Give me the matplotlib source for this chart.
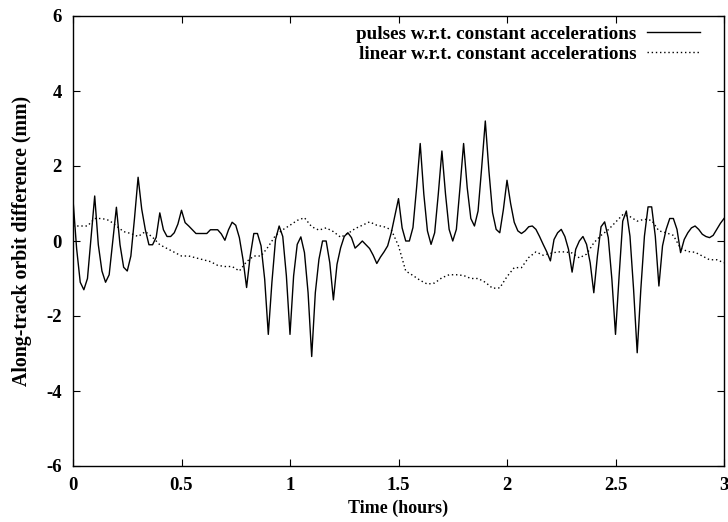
import numpy as np
import matplotlib
matplotlib.use("Agg")
import matplotlib.pyplot as plt

plt.rcParams['font.family'] = ['Liberation Serif', 'DejaVu Serif']
plt.rcParams['font.weight'] = 'bold'
plt.rcParams['axes.unicode_minus'] = False

# Along-track orbit differences (mm), one sample per minute over 3 hours
minutes_pulses = np.arange(0, 181)
pulses = [
    1.1, -0.2, -1.1, -1.3, -1.0, 0.1, 1.2, -0.1, -0.8, -1.1,
    -0.9, 0.0, 0.9, -0.1, -0.7, -0.8, -0.4, 0.6, 1.7, 0.85,
    0.3, -0.1, -0.1, 0.1, 0.75, 0.3, 0.12, 0.12, 0.22, 0.45,
    0.82, 0.49, 0.4, 0.3, 0.2, 0.2, 0.2, 0.2, 0.3, 0.3,
    0.3, 0.19, 0.02, 0.3, 0.5, 0.42, 0.09, -0.49, -1.24, -0.4,
    0.2, 0.2, -0.13, -1.02, -2.49, -1.1, 0.04, 0.4, 0.12, -0.93,
    -2.49, -0.93, -0.09, 0.11, -0.31, -1.38, -3.08, -1.38, -0.49, 0.0,
    0.0, -0.58, -1.57, -0.62, -0.18, 0.12, 0.22, 0.09, -0.19, -0.1,
    0.0, -0.1, -0.2, -0.38, -0.6, -0.43, -0.29, -0.13, 0.22, 0.67,
    1.13, 0.35, 0.0, 0.0, 0.36, 1.42, 2.6, 1.25, 0.27, -0.09,
    0.22, 1.25, 2.4, 1.25, 0.31, 0.0, 0.31, 1.42, 2.6, 1.42,
    0.6, 0.4, 0.8, 1.96, 3.2, 1.87, 0.76, 0.31, 0.22, 0.84,
    1.62, 1.0, 0.5, 0.27, 0.2, 0.27, 0.38, 0.4, 0.31, 0.12,
    -0.09, -0.29, -0.53, 0.04, 0.22, 0.31, 0.12, -0.22, -0.83, -0.22,
    0.0, 0.12, -0.09, -0.58, -1.38, -0.4, 0.38, 0.51, 0.09, -1.02,
    -2.49, -0.93, 0.53, 0.8, 0.13, -1.29, -2.98, -1.29, 0.13, 0.91,
    0.91, 0.13, -1.2, -0.13, 0.31, 0.6, 0.6, 0.31, -0.31, 0.04,
    0.22, 0.35, 0.4, 0.31, 0.18, 0.12, 0.09, 0.15, 0.31, 0.47,
    0.6,
]

# Linear model differences, one sample every two minutes
minutes_linear = np.arange(0, 181, 2)
linear = [
    0.4, 0.4, 0.4, 0.6, 0.6, 0.55, 0.4, 0.25, 0.2, 0.12,
    0.25, 0.1, -0.1, -0.2, -0.3, -0.4, -0.4, -0.45, -0.5, -0.55,
    -0.65, -0.68, -0.68, -0.8, -0.55, -0.4, -0.4, -0.15, 0.15, 0.3,
    0.42, 0.55, 0.62, 0.38, 0.29, 0.35, 0.25, 0.1, 0.2, 0.33,
    0.42, 0.51, 0.42, 0.38, 0.3, -0.13, -0.8, -0.92, -1.05, -1.15,
    -1.12, -0.98, -0.9, -0.9, -0.92, -1.0, -1.0, -1.1, -1.26, -1.25,
    -0.95, -0.71, -0.71, -0.44, -0.29, -0.38, -0.33, -0.29, -0.29, -0.32,
    -0.45, -0.35, -0.05, 0.15, 0.3, 0.5, 0.7, 0.65, 0.53, 0.58,
    0.55, 0.27, 0.22, 0.15, -0.2, -0.28, -0.3, -0.4, -0.5, -0.5,
    -0.58,
]

x_ticks = [0, 0.5, 1, 1.5, 2, 2.5, 3]
x_tick_labels = ['0', '0.5', '1', '1.5', '2', '2.5', '3']
y_ticks = [-6, -4, -2, 0, 2, 4, 6]

fig = plt.figure(figsize=(7.28, 5.22), dpi=100)
ax = fig.add_axes([73 / 728, 1 - 466 / 522, (724 - 73) / 728, (466 - 16) / 522])

ax.plot(minutes_pulses / 60.0, pulses, color='black', lw=1.0,
        label='pulses w.r.t. constant accelerations')
ax.plot(minutes_linear / 60.0, linear, color='black', lw=1.0,
        linestyle=(0, (1.0, 2.0)),
        label='linear w.r.t. constant accelerations')

ax.set_xlim(0, 3)
ax.set_ylim(-6, 6)
ax.set_xticks(x_ticks)
ax.set_xticklabels(x_tick_labels)
ax.set_yticks(y_ticks)
ax.tick_params(direction='in', length=5, width=0.8, top=True, right=True,
               labelsize=13.5, pad=8)
for lab in ax.get_xticklabels() + ax.get_yticklabels():
    lab.set_fontweight('bold')
for sp in ax.spines.values():
    sp.set_linewidth(1.0)

ax.set_xlabel('Time (hours)', fontsize=13, fontweight='bold', labelpad=4)
ax.set_ylabel('Along-track orbit difference (mm)', fontsize=14.3,
              fontweight='bold', labelpad=10)

leg = ax.legend(loc='upper right', bbox_to_anchor=((700 - 73) / 651, 0.979),
                frameon=False, markerfirst=False,
                handlelength=2.75, handletextpad=0.55,
                borderaxespad=0.0, borderpad=0.0, labelspacing=0.12,
                prop={'weight': 'bold', 'size': 13.8})

fig.savefig('out.png', dpi=100)
